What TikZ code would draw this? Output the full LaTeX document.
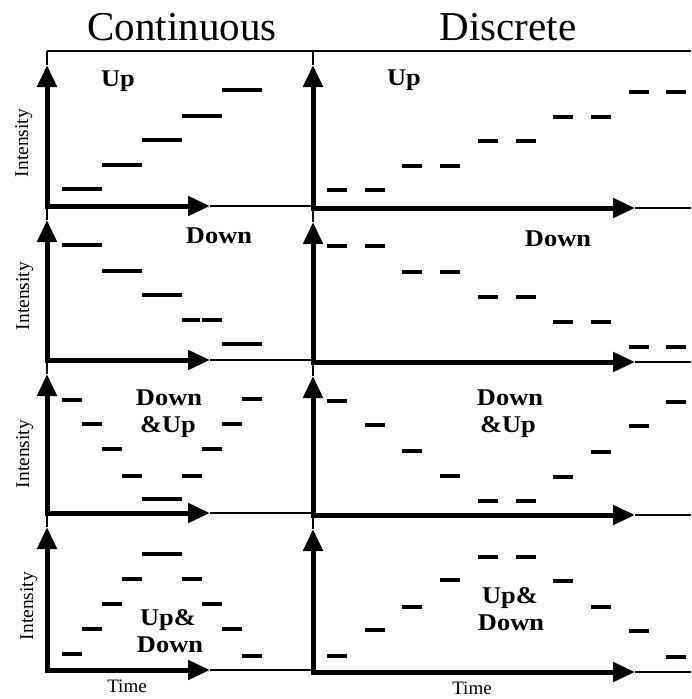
\documentclass[tikz,border=0pt]{standalone}
\usepackage{fontspec}
\setmainfont{Liberation Serif}
\usetikzlibrary{arrows.meta}

\begin{document}
\begin{tikzpicture}[x=1pt, y=-1pt,
  axis/.style={line width=5pt, line cap=rect, -{Triangle[length=22pt,width=19pt]}},
  thinax/.style={line width=1.6pt},
  seg/.style={line width=3.5pt},
  title/.style={font=\fontsize{41}{41}\selectfont, inner sep=0pt, anchor=base},
  lab/.style={font=\bfseries\fontsize{24}{24}\selectfont, inner sep=0pt, anchor=base},
  ylab/.style={font=\fontsize{19.5}{19.5}\selectfont, inner sep=0pt, anchor=base, rotate=90},
  xlab/.style={font=\fontsize{19}{19}\selectfont, inner sep=0pt, anchor=base}]

\useasboundingbox (0,0) rectangle (691,699);

% column headings
\node[title] (tC) at (182,40) {Continuous};
\node[title] (tD) at (508,40) {Discrete};

% frame line across the top
\coordinate (frameL) at (47,51);
\coordinate (frameR) at (691,51);
\draw[thinax] (frameL) -- (frameR);

% axes of the continuous column: origin x, origin y, top of panel
\foreach \r/\oy/\top in {1/206/51, 2/360/206, 3/513/360, 4/670/513}{
  \coordinate (c\r o) at (47,\oy);
  \coordinate (c\r v) at (47,\top+14);
  \coordinate (c\r t) at (47,\top);
  \coordinate (c\r h) at (210,\oy);
  \coordinate (c\r e) at (313,\oy);
  \draw[axis] (c\r o) -- (c\r v);
  \draw[thinax] (c\r v) -- (c\r t);
  \draw[axis] (c\r o) -- (c\r h);
  \draw[thinax] (c\r h) -- (c\r e);
}

% axes of the discrete column
\foreach \r/\oy/\top in {1/208/51, 2/362/208, 3/515/362, 4/672/515}{
  \coordinate (d\r o) at (313,\oy);
  \coordinate (d\r v) at (313,\top+14);
  \coordinate (d\r t) at (313,\top);
  \coordinate (d\r h) at (635,\oy);
  \coordinate (d\r e) at (691,\oy);
  \draw[axis] (d\r o) -- (d\r v);
  \draw[thinax] (d\r v) -- (d\r t);
  \draw[axis] (d\r o) -- (d\r h);
  \draw[thinax] (d\r h) -- (d\r e);
}

% continuous steps: start x, end x, level
\foreach \a/\b/\y in {62/102/189, 102/142/165, 142/182/140, 182/222/116, 222/262/90,
  62/102/245, 102/142/271, 142/182/295, 182/200/320, 202/222/320, 222/262/344,
  62/82/400, 82/102/424, 102/122/449, 122/142/476, 142/182/499, 182/202/476,
  202/222/449, 222/242/424, 242/262/399,
  62/82/654, 82/102/629, 102/122/604, 122/142/579, 142/182/554, 182/202/579,
  202/222/604, 222/242/629, 242/262/656}
  \draw[seg] (\a,\y) -- (\b,\y);

% discrete steps: slot index, level
\foreach \k/\y in {0/190, 1/190, 2/166, 3/166, 4/141, 5/141, 6/117, 7/117, 8/92, 9/92,
  0/246, 1/246, 2/272, 3/272, 4/297, 5/297, 6/322, 7/322, 8/347, 9/347,
  0/401, 1/425, 2/451, 3/476, 4/501, 5/501, 6/477, 7/452, 8/426, 9/402,
  0/656, 1/630, 2/607, 3/580, 4/557, 5/557, 6/581, 7/607, 8/631, 9/657}
  \draw[seg] ({327+37.7*\k},\y) -- ++(20,0);

% pattern names
\node[lab] (up1)   at (118,86)  {\scalebox{1.1}[1]{Up}};
\node[lab] (up2)   at (404,85)  {\scalebox{1.1}[1]{Up}};
\node[lab] (dn1)   at (219,243) {\scalebox{1.1}[1]{Down}};
\node[lab] (dn2)   at (558,246) {\scalebox{1.1}[1]{Down}};
\node[lab] (du1a)  at (169,405) {\scalebox{1.1}[1]{Down}};
\node[lab] (du1b)  at (168,432) {\scalebox{1.1}[1]{\&Up}};
\node[lab] (du2a)  at (510,405) {\scalebox{1.1}[1]{Down}};
\node[lab] (du2b)  at (508,432) {\scalebox{1.1}[1]{\&Up}};
\node[lab] (ud1a)  at (168,625) {\scalebox{1.1}[1]{Up\&}};
\node[lab] (ud1b)  at (170,652) {\scalebox{1.1}[1]{Down}};
\node[lab] (ud2a)  at (510,603) {\scalebox{1.1}[1]{Up\&}};
\node[lab] (ud2b)  at (511,630) {\scalebox{1.1}[1]{Down}};

% axis names
\node[ylab] (int1) at (28,143) {Intensity};
\node[ylab] (int2) at (29,296) {Intensity};
\node[ylab] (int3) at (29,454) {Intensity};
\node[ylab] (int4) at (33,606) {Intensity};
\node[xlab] (time1) at (127,692) {Time};
\node[xlab] (time2) at (472,694) {Time};

\end{tikzpicture}
\end{document}
